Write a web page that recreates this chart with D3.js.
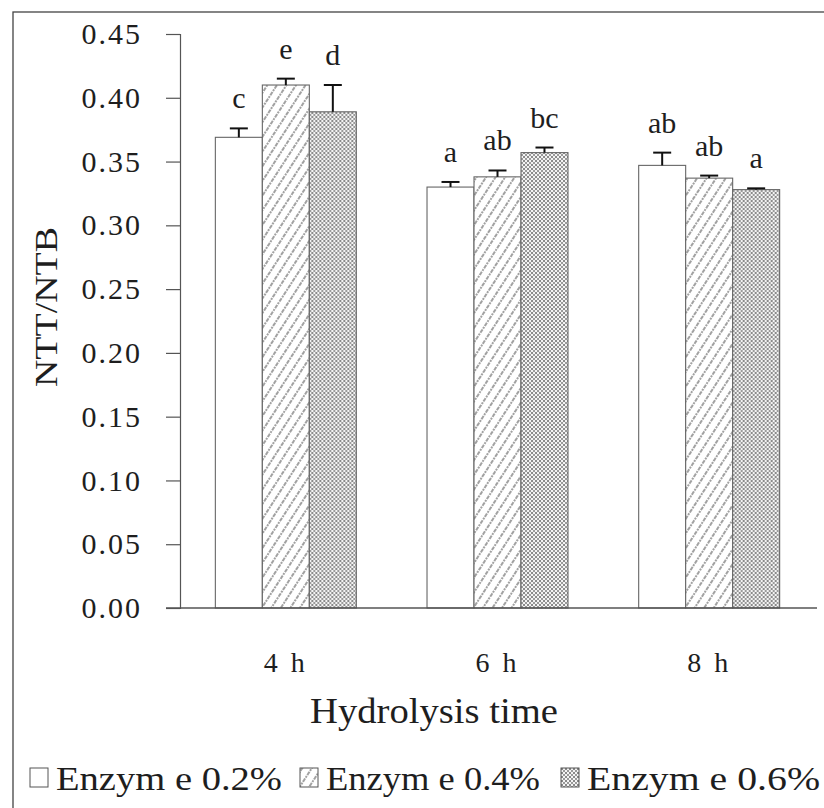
<!DOCTYPE html>
<html>
<head>
<meta charset="utf-8">
<script src="https://cdn.jsdelivr.net/npm/d3@7"></script>
<style>
  html, body { margin: 0; padding: 0; background: #fff; }
  svg { display: block; }
  svg text { font-family: "Liberation Serif", "DejaVu Serif", "Times New Roman", serif !important; fill: #1e1e1e; }
</style>
</head>
<body>
<svg id="chart" width="824" height="808"></svg>
<script>
// ---- data ----
const categories = ["4 h", "6 h", "8 h"];
const seriesNames = ["Enzym e 0.2%", "Enzym e 0.4%", "Enzym e 0.6%"];
const enzyme02 = [0.369, 0.330, 0.347];
const enzyme04 = [0.410, 0.338, 0.337];
const enzyme06 = [0.389, 0.357, 0.328];
const err02 = [0.007, 0.004, 0.010];
const err04 = [0.005, 0.005, 0.002];
const err06 = [0.021, 0.004, 0.001];
const letters02 = ["c", "a", "ab"];
const letters04 = ["e", "ab", "ab"];
const letters06 = ["d", "bc", "a"];
const yTicks = [0, 0.05, 0.10, 0.15, 0.20, 0.25, 0.30, 0.35, 0.40, 0.45];
const yTitle = "NTT/NTB";
const xTitle = "Hydrolysis time";

const seriesValues = [enzyme02, enzyme04, enzyme06];
const seriesErr = [err02, err04, err06];
const seriesLetters = [letters02, letters04, letters06];

const FONT = '"Liberation Serif", "DejaVu Serif", serif';

// ---- layout ----
const svg = d3.select("#chart");
const axisX = 180, baseY = 608, topY = 34, plotRight = 815;

// frame
svg.append("rect").attr("x", 13).attr("y", 12).attr("width", 840).attr("height", 840)
  .attr("fill", "none").attr("stroke", "#444").attr("stroke-width", 1.3);

// patterns
const defs = svg.append("defs");
const hatch = defs.append("pattern").attr("id", "hatch")
  .attr("patternUnits", "userSpaceOnUse").attr("width", 8).attr("height", 8)
  .attr("patternTransform", "rotate(33)");
hatch.append("rect").attr("width", 8).attr("height", 8).attr("fill", "#fff");
hatch.append("line").attr("x1", 2).attr("y1", 0).attr("x2", 2).attr("y2", 8)
  .attr("stroke", "#7a7a7a").attr("stroke-width", 1.4).attr("stroke-dasharray", "2,1");

const dots = defs.append("pattern").attr("id", "dots")
  .attr("patternUnits", "userSpaceOnUse").attr("width", 4).attr("height", 4);
dots.append("rect").attr("width", 4).attr("height", 4).attr("fill", "#f4f4f4");
dots.append("rect").attr("x", 0).attr("y", 0).attr("width", 2).attr("height", 2).attr("fill", "#8a8a8a");
dots.append("rect").attr("x", 2).attr("y", 2).attr("width", 2).attr("height", 2).attr("fill", "#9a9a9a");

const fills = ["#ffffff", "url(#hatch)", "url(#dots)"];

// scales
const x0 = d3.scaleBand().domain(categories).range([axisX, plotRight])
  .paddingInner(0.334).paddingOuter(0.167);
const x1 = d3.scaleBand().domain(d3.range(3)).range([0, x0.bandwidth()]).padding(0);
const y = d3.scaleLinear().domain([0, 0.45]).range([baseY, topY]);

// y axis
const yAxis = d3.axisLeft(y).tickValues(yTicks).tickFormat(d3.format(".2f"))
  .tickSize(14).tickPadding(24);
const gy = svg.append("g").attr("transform", `translate(${axisX},0)`).call(yAxis)
  .attr("font-family", FONT);
gy.select(".domain").attr("stroke", "#555").attr("stroke-width", 1.2);
gy.selectAll(".tick line").attr("stroke", "#555").attr("stroke-width", 1.2);
gy.selectAll(".tick text")
  .attr("font-family", FONT)
  .attr("font-size", 30).attr("fill", "#2a2a2a")
  .attr("letter-spacing", 2);

// bars
const groups = svg.append("g").selectAll("g").data(categories).join("g")
  .attr("transform", d => `translate(${x0(d)},0)`);

const barData = (c, ci) => d3.range(3).map(s => ({
  s, v: seriesValues[s][ci], e: seriesErr[s][ci], l: seriesLetters[s][ci]
}));

groups.each(function (c, ci) {
  const g = d3.select(this);
  const data = barData(c, ci);
  g.selectAll("rect.bar").data(data).join("rect").attr("class", "bar")
    .attr("x", d => x1(d.s)).attr("width", x1.bandwidth())
    .attr("y", d => y(d.v)).attr("height", d => baseY - y(d.v))
    .attr("fill", d => fills[d.s])
    .attr("stroke", "#666").attr("stroke-width", 1.1);
  g.selectAll("line.err").data(data).join("line").attr("class", "err")
    .attr("x1", d => x1(d.s) + x1.bandwidth() / 2).attr("x2", d => x1(d.s) + x1.bandwidth() / 2)
    .attr("y1", d => y(d.v)).attr("y2", d => y(d.v + d.e))
    .attr("stroke", "#111").attr("stroke-width", 2);
  g.selectAll("line.cap").data(data).join("line").attr("class", "cap")
    .attr("x1", d => x1(d.s) + x1.bandwidth() / 2 - 9).attr("x2", d => x1(d.s) + x1.bandwidth() / 2 + 9)
    .attr("y1", d => y(d.v + d.e)).attr("y2", d => y(d.v + d.e))
    .attr("stroke", "#111").attr("stroke-width", 2);
  g.selectAll("text.lt").data(data).join("text").attr("class", "lt")
    .attr("x", d => x1(d.s) + x1.bandwidth() / 2).attr("y", d => y(d.v + d.e) - 20)
    .attr("text-anchor", "middle").attr("font-size", 30).attr("font-family", FONT)
    .text(d => d.l);
});

// x baseline
svg.append("line").attr("x1", 166).attr("x2", 817).attr("y1", baseY).attr("y2", baseY)
  .attr("stroke", "#555").attr("stroke-width", 1.3);

// x tick labels
svg.append("g").selectAll("text").data(categories).join("text")
  .attr("x", d => x0(d) + x0.bandwidth() / 2).attr("y", 672)
  .attr("text-anchor", "middle").attr("font-size", 28).attr("font-family", FONT)
  .attr("letter-spacing", 3)
  .text(d => d);

// x title
svg.append("text").attr("x", 434).attr("y", 723).attr("text-anchor", "middle")
  .attr("font-size", 36).attr("font-family", FONT)
  .attr("textLength", 248).attr("lengthAdjust", "spacingAndGlyphs")
  .text(xTitle);

// y title
svg.append("text").attr("transform", "translate(57,307) rotate(-90)")
  .attr("text-anchor", "middle").attr("font-size", 32).attr("font-family", FONT)
  .attr("textLength", 160).attr("lengthAdjust", "spacingAndGlyphs")
  .text(yTitle);

// legend
const legendX = [30, 300, 561];
const legendTextLen = [226, 214, 233];
const lg = svg.append("g").selectAll("g").data(seriesNames).join("g")
  .attr("transform", (d, i) => `translate(${legendX[i]},768)`);
lg.append("rect").attr("width", 18).attr("height", 19)
  .attr("fill", (d, i) => fills[i]).attr("stroke", "#555").attr("stroke-width", 1);
lg.append("text").attr("x", 26).attr("y", 22).attr("font-size", 34).attr("font-family", FONT)
  .attr("textLength", (d, i) => legendTextLen[i]).attr("lengthAdjust", "spacingAndGlyphs")
  .text(d => d);
</script>
</body>
</html>
